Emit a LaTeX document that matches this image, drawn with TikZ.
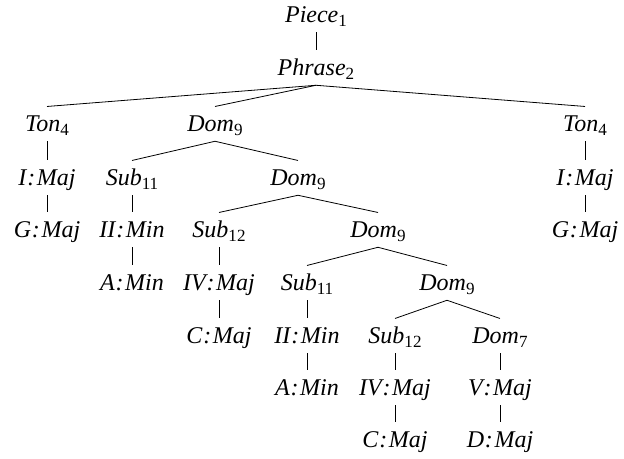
\documentclass[tikz,border=0pt]{standalone}
\usepackage{fontspec}
\setmainfont{Liberation Serif}
\newcommand\sbx[2]{#1\raisebox{-0.4ex}{\fontsize{12.8}{13}\selectfont\upshape #2}}
\newcommand\cln{\kern0.6pt:\kern1.2pt}
\tikzset{
  tn/.style={anchor=base, font=\fontsize{18}{21}\selectfont\itshape,
    text height=14.5pt, text depth=3.8pt, inner xsep=0pt, inner ysep=3.7pt},
  br/.style={line width=0.6pt}
}
\begin{document}
\begin{tikzpicture}[x=0.75pt,y=-0.75pt]
\useasboundingbox (0,0) rectangle (624,458);
% rows (baselines)
\node[tn] (piece) at (316,22) {\sbx{Piece}{1}};
\node[tn] (phrase) at (316,75) {\sbx{Phrase}{2}};
\node[tn] (tonL) at (47,131) {\sbx{Ton}{4}};
\node[tn] (domA) at (215,131) {\sbx{Dom}{9}};
\node[tn] (tonR) at (585,131) {\sbx{Ton}{4}};
\node[tn] (imajL) at (47,185) {I\cln Maj};
\node[tn] (subA) at (132,185) {\sbx{Sub}{11}};
\node[tn] (domB) at (298,185) {\sbx{Dom}{9}};
\node[tn] (imajR) at (585,185) {I\cln Maj};
\node[tn] (gmajL) at (47,237) {G\cln Maj};
\node[tn] (iiminA) at (132,237) {II\cln Min};
\node[tn] (subB) at (219,237) {\sbx{Sub}{12}};
\node[tn] (domC) at (378,237) {\sbx{Dom}{9}};
\node[tn] (gmajR) at (585,237) {G\cln Maj};
\node[tn] (aminA) at (132,290) {A\cln Min};
\node[tn] (ivmajA) at (219,290) {IV\cln Maj};
\node[tn] (subC) at (307,290) {\sbx{Sub}{11}};
\node[tn] (domD) at (447,290) {\sbx{Dom}{9}};
\node[tn] (cmajA) at (219,343) {C\cln Maj};
\node[tn] (iiminB) at (307,343) {II\cln Min};
\node[tn] (subD) at (395,343) {\sbx{Sub}{12}};
\node[tn] (domE) at (500,343) {\sbx{Dom}{7}};
\node[tn] (aminB) at (307,395) {A\cln Min};
\node[tn] (ivmajB) at (395,395) {IV\cln Maj};
\node[tn] (vmaj) at (500,395) {V\cln Maj};
\node[tn] (cmajB) at (395,447) {C\cln Maj};
\node[tn] (dmaj) at (500,447) {D\cln Maj};
% edges
\draw[br] (piece.south) -- (phrase.north);
\draw[br] (phrase.south) -- (tonL.north);
\draw[br] (phrase.south) -- (domA.north);
\draw[br] (phrase.south) -- (tonR.north);
\draw[br] (tonL.south) -- (imajL.north);
\draw[br] (imajL.south) -- (gmajL.north);
\draw[br] (tonR.south) -- (imajR.north);
\draw[br] (imajR.south) -- (gmajR.north);
\draw[br] (domA.south) -- (subA.north);
\draw[br] (domA.south) -- (domB.north);
\draw[br] (subA.south) -- (iiminA.north);
\draw[br] (iiminA.south) -- (aminA.north);
\draw[br] (domB.south) -- (subB.north);
\draw[br] (domB.south) -- (domC.north);
\draw[br] (subB.south) -- (ivmajA.north);
\draw[br] (ivmajA.south) -- (cmajA.north);
\draw[br] (domC.south) -- (subC.north);
\draw[br] (domC.south) -- (domD.north);
\draw[br] (subC.south) -- (iiminB.north);
\draw[br] (iiminB.south) -- (aminB.north);
\draw[br] (domD.south) -- (subD.north);
\draw[br] (domD.south) -- (domE.north);
\draw[br] (subD.south) -- (ivmajB.north);
\draw[br] (ivmajB.south) -- (cmajB.north);
\draw[br] (domE.south) -- (vmaj.north);
\draw[br] (vmaj.south) -- (dmaj.north);
\end{tikzpicture}
\end{document}
